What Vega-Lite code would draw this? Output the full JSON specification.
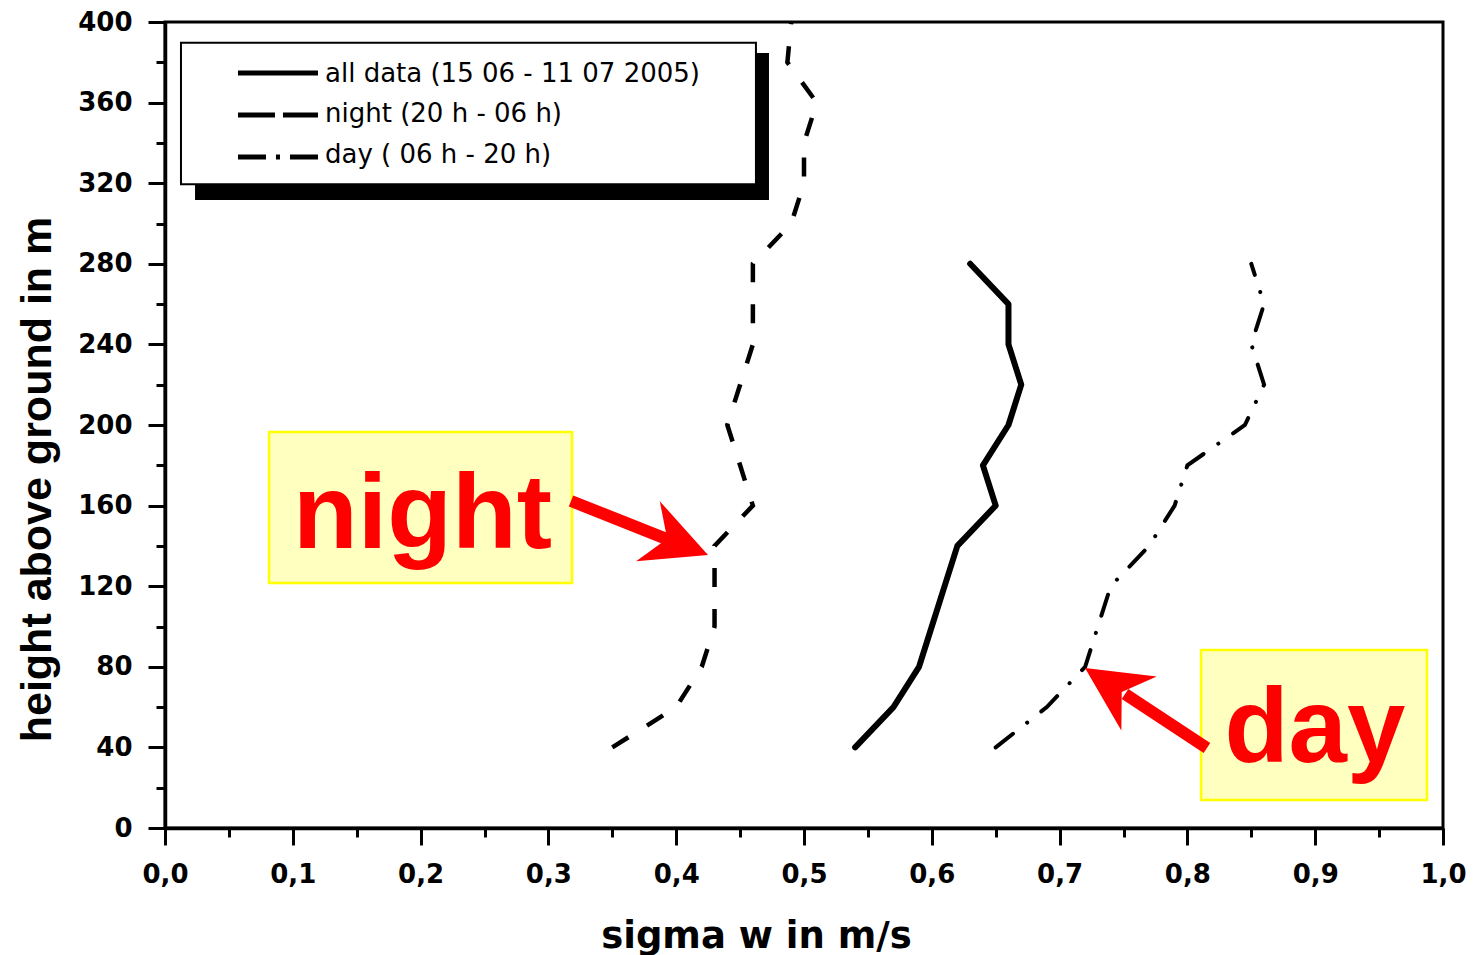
{
  "$schema": "https://vega.github.io/schema/vega-lite/v6.json",
  "width": 1278,
  "height": 806,
  "autosize": {"type": "none"},
  "padding": {"left": 165, "top": 22, "right": 40, "bottom": 127},
  "background": "white",
  "config": {
    "view": {"stroke": "black", "strokeWidth": 3},
    "font": "DejaVu Sans"
  },
  "datasets": {
    "profiles": [
      {"series": "all", "height": 40, "sigma": 0.54},
      {"series": "all", "height": 60, "sigma": 0.57},
      {"series": "all", "height": 80, "sigma": 0.59},
      {"series": "all", "height": 100, "sigma": 0.60},
      {"series": "all", "height": 120, "sigma": 0.61},
      {"series": "all", "height": 140, "sigma": 0.62},
      {"series": "all", "height": 160, "sigma": 0.65},
      {"series": "all", "height": 180, "sigma": 0.64},
      {"series": "all", "height": 200, "sigma": 0.66},
      {"series": "all", "height": 220, "sigma": 0.67},
      {"series": "all", "height": 240, "sigma": 0.66},
      {"series": "all", "height": 260, "sigma": 0.66},
      {"series": "all", "height": 280, "sigma": 0.63},
      {"series": "night", "height": 40, "sigma": 0.35},
      {"series": "night", "height": 60, "sigma": 0.40},
      {"series": "night", "height": 80, "sigma": 0.42},
      {"series": "night", "height": 100, "sigma": 0.43},
      {"series": "night", "height": 120, "sigma": 0.43},
      {"series": "night", "height": 140, "sigma": 0.43},
      {"series": "night", "height": 160, "sigma": 0.46},
      {"series": "night", "height": 180, "sigma": 0.45},
      {"series": "night", "height": 200, "sigma": 0.44},
      {"series": "night", "height": 220, "sigma": 0.45},
      {"series": "night", "height": 240, "sigma": 0.46},
      {"series": "night", "height": 260, "sigma": 0.46},
      {"series": "night", "height": 280, "sigma": 0.46},
      {"series": "night", "height": 300, "sigma": 0.49},
      {"series": "night", "height": 320, "sigma": 0.50},
      {"series": "night", "height": 340, "sigma": 0.50},
      {"series": "night", "height": 360, "sigma": 0.51},
      {"series": "night", "height": 380, "sigma": 0.487},
      {"series": "night", "height": 400, "sigma": 0.49},
      {"series": "day", "height": 40, "sigma": 0.65},
      {"series": "day", "height": 60, "sigma": 0.69},
      {"series": "day", "height": 80, "sigma": 0.72},
      {"series": "day", "height": 100, "sigma": 0.73},
      {"series": "day", "height": 120, "sigma": 0.74},
      {"series": "day", "height": 140, "sigma": 0.77},
      {"series": "day", "height": 160, "sigma": 0.79},
      {"series": "day", "height": 180, "sigma": 0.80},
      {"series": "day", "height": 200, "sigma": 0.845},
      {"series": "day", "height": 220, "sigma": 0.86},
      {"series": "day", "height": 240, "sigma": 0.85},
      {"series": "day", "height": 260, "sigma": 0.86},
      {"series": "day", "height": 280, "sigma": 0.85}
    ]
  },
  "layer": [
    {
      "data": {"name": "profiles"},
      "transform": [{"filter": "datum.series === 'all'"}],
      "mark": {"type": "line", "color": "black", "strokeWidth": 6, "strokeCap": "round", "strokeJoin": "round"},
      "encoding": {
        "x": {
          "field": "sigma", "type": "quantitative",
          "scale": {"domain": [0, 1], "nice": false, "zero": false},
          "axis": {
            "title": "sigma w in m/s",
            "values": [0, 0.05, 0.1, 0.15, 0.2, 0.25, 0.3, 0.35, 0.4, 0.45, 0.5, 0.55, 0.6, 0.65, 0.7, 0.75, 0.8, 0.85, 0.9, 0.95, 1.0],
            "labelExpr": "round(datum.value*20) % 2 == 0 ? replace(format(datum.value, '.1f'), '.', ',') : ''",
            "tickSize": {"condition": {"test": "round(datum.value*20) % 2 == 0", "value": 17}, "value": 9},
            "tickWidth": 3,
            "tickColor": "black",
            "domainColor": "black",
            "domainWidth": 3.5,
            "grid": false,
            "labelFont": "DejaVu Sans",
            "labelFontWeight": "bold",
            "labelFontSize": 26,
            "labelColor": "black",
            "labelPadding": 16,
            "labelOverlap": false,
            "labelFlush": false,
            "labelBound": false,
            "titleFont": "DejaVu Sans",
            "titleFontWeight": "bold",
            "titleFontSize": 37,
            "titleColor": "black",
            "titleX": 591,
            "titleY": 119,
            "titleAlign": "center",
            "titleBaseline": "alphabetic"
          }
        },
        "y": {
          "field": "height", "type": "quantitative",
          "scale": {"domain": [0, 400], "nice": false},
          "axis": {
            "title": "height above ground in m",
            "values": [0, 20, 40, 60, 80, 100, 120, 140, 160, 180, 200, 220, 240, 260, 280, 300, 320, 340, 360, 380, 400],
            "labelExpr": "datum.value % 40 == 0 ? format(datum.value, 'd') : ''",
            "tickSize": {"condition": {"test": "datum.value % 40 == 0", "value": 17}, "value": 9},
            "tickWidth": 3,
            "tickColor": "black",
            "domainColor": "black",
            "domainWidth": 3.5,
            "grid": false,
            "labelFont": "DejaVu Sans",
            "labelFontWeight": "bold",
            "labelFontSize": 26,
            "labelColor": "black",
            "labelPadding": 16,
            "labelOverlap": false,
            "labelFlush": false,
            "labelBound": false,
            "titleFont": "Liberation Sans",
            "titleFontWeight": "bold",
            "titleFontSize": 43,
            "titleColor": "black",
            "titleAngle": -90,
            "titleX": -115,
            "titleY": 457,
            "titleAlign": "center",
            "titleBaseline": "alphabetic"
          }
        },
        "order": {"field": "height", "type": "quantitative"}
      }
    },
    {
      "data": {"name": "profiles"},
      "transform": [{"filter": "datum.series === 'night'"}],
      "mark": {"type": "line", "color": "black", "strokeWidth": 4.5, "strokeCap": "butt", "strokeDash": [19, 22]},
      "encoding": {
        "x": {"field": "sigma", "type": "quantitative"},
        "y": {"field": "height", "type": "quantitative"},
        "order": {"field": "height", "type": "quantitative"}
      }
    },
    {
      "data": {"name": "profiles"},
      "transform": [{"filter": "datum.series === 'day'"}],
      "mark": {"type": "line", "color": "black", "strokeWidth": 4, "strokeCap": "round", "strokeDash": [22, 18, 0.1, 18]},
      "encoding": {
        "x": {"field": "sigma", "type": "quantitative"},
        "y": {"field": "height", "type": "quantitative"},
        "order": {"field": "height", "type": "quantitative"}
      }
    },
    {
      "data": {"values": [{}]},
      "mark": {"type": "rect", "color": "black"},
      "encoding": {
        "x": {"datum": 0.0235, "type": "quantitative"},
        "x2": {"datum": 0.4726},
        "y": {"datum": 384.6, "type": "quantitative"},
        "y2": {"datum": 311.7}
      }
    },
    {
      "data": {"values": [{}]},
      "mark": {"type": "rect", "fill": "white", "stroke": "black", "strokeWidth": 2},
      "encoding": {
        "x": {"datum": 0.0125, "type": "quantitative"},
        "x2": {"datum": 0.4624},
        "y": {"datum": 389.7, "type": "quantitative"},
        "y2": {"datum": 319.5}
      }
    },
    {
      "data": {"values": [{}]},
      "mark": {"type": "rule", "color": "black", "strokeWidth": 5},
      "encoding": {
        "x": {"datum": 0.0571, "type": "quantitative"},
        "x2": {"datum": 0.1197},
        "y": {"datum": 374.7, "type": "quantitative"}
      }
    },
    {
      "data": {"values": [{}]},
      "mark": {"type": "rule", "color": "black", "strokeWidth": 5, "strokeDash": [37, 8]},
      "encoding": {
        "x": {"datum": 0.0571, "type": "quantitative"},
        "x2": {"datum": 0.1197},
        "y": {"datum": 353.8, "type": "quantitative"}
      }
    },
    {
      "data": {"values": [{}]},
      "mark": {"type": "rule", "color": "black", "strokeWidth": 5, "strokeDash": [28, 10, 4, 10]},
      "encoding": {
        "x": {"datum": 0.0571, "type": "quantitative"},
        "x2": {"datum": 0.1197},
        "y": {"datum": 333.0, "type": "quantitative"}
      }
    },
    {
      "data": {"values": [{}]},
      "mark": {"type": "text", "text": "all data (15 06 - 11 07 2005)", "font": "DejaVu Sans", "fontSize": 26, "align": "left", "baseline": "alphabetic", "color": "black"},
      "encoding": {
        "x": {"datum": 0.1252, "type": "quantitative"},
        "y": {"datum": 370.2, "type": "quantitative"}
      }
    },
    {
      "data": {"values": [{}]},
      "mark": {"type": "text", "text": "night (20 h - 06 h)", "font": "DejaVu Sans", "fontSize": 26, "align": "left", "baseline": "alphabetic", "color": "black"},
      "encoding": {
        "x": {"datum": 0.1252, "type": "quantitative"},
        "y": {"datum": 350.4, "type": "quantitative"}
      }
    },
    {
      "data": {"values": [{}]},
      "mark": {"type": "text", "text": "day ( 06 h - 20 h)", "font": "DejaVu Sans", "fontSize": 26, "align": "left", "baseline": "alphabetic", "color": "black"},
      "encoding": {
        "x": {"datum": 0.1252, "type": "quantitative"},
        "y": {"datum": 329.8, "type": "quantitative"}
      }
    },
    {
      "data": {"values": [{}]},
      "mark": {"type": "rect", "fill": "#FFFFC0", "stroke": "#FFFF00", "strokeWidth": 2.5},
      "encoding": {
        "x": {"datum": 0.0814, "type": "quantitative"},
        "x2": {"datum": 0.3185},
        "y": {"datum": 196.5, "type": "quantitative"},
        "y2": {"datum": 121.6}
      }
    },
    {
      "data": {"values": [{}]},
      "mark": {"type": "rect", "fill": "#FFFFC0", "stroke": "#FFFF00", "strokeWidth": 2.5},
      "encoding": {
        "x": {"datum": 0.8107, "type": "quantitative"},
        "x2": {"datum": 0.9875},
        "y": {"datum": 88.3, "type": "quantitative"},
        "y2": {"datum": 13.9}
      }
    },
    {
      "data": {"values": [{}]},
      "mark": {"type": "text", "text": "night", "font": "Liberation Sans", "fontWeight": "bold", "fontSize": 106, "align": "center", "baseline": "alphabetic", "color": "#FF0000"},
      "encoding": {
        "x": {"datum": 0.2015, "type": "quantitative"},
        "y": {"datum": 139.0, "type": "quantitative"}
      }
    },
    {
      "data": {"values": [{}]},
      "mark": {"type": "text", "text": "day", "font": "Liberation Sans", "fontWeight": "bold", "fontSize": 105, "align": "center", "baseline": "alphabetic", "color": "#FF0000"},
      "encoding": {
        "x": {"datum": 0.8998, "type": "quantitative"},
        "y": {"datum": 32.8, "type": "quantitative"}
      }
    },
    {
      "data": {"values": [{}]},
      "mark": {"type": "rule", "color": "#FF0000", "strokeWidth": 12, "strokeCap": "butt"},
      "encoding": {
        "x": {"datum": 0.3177, "type": "quantitative"},
        "y": {"datum": 162.3, "type": "quantitative"},
        "x2": {"datum": 0.3967},
        "y2": {"datum": 142.4}
      }
    },
    {
      "data": {"values": [{}]},
      "mark": {"type": "point", "shape": "M0,-1L1,1L0,0.36L-1,1Z", "size": 4170, "angle": 111.5, "filled": true, "opacity": 1, "color": "#FF0000", "strokeWidth": 0},
      "encoding": {
        "x": {"datum": 0.4014, "type": "quantitative"},
        "y": {"datum": 141.4, "type": "quantitative"}
      }
    },
    {
      "data": {"values": [{}]},
      "mark": {"type": "rule", "color": "#FF0000", "strokeWidth": 12, "strokeCap": "butt"},
      "encoding": {
        "x": {"datum": 0.8153, "type": "quantitative"},
        "y": {"datum": 39.7, "type": "quantitative"},
        "x2": {"datum": 0.7512},
        "y2": {"datum": 66.5}
      }
    },
    {
      "data": {"values": [{}]},
      "mark": {"type": "point", "shape": "M0,-1L1,1L0,0.36L-1,1Z", "size": 4170, "angle": 303.2, "filled": true, "opacity": 1, "color": "#FF0000", "strokeWidth": 0},
      "encoding": {
        "x": {"datum": 0.741, "type": "quantitative"},
        "y": {"datum": 70.6, "type": "quantitative"}
      }
    }
  ]
}
